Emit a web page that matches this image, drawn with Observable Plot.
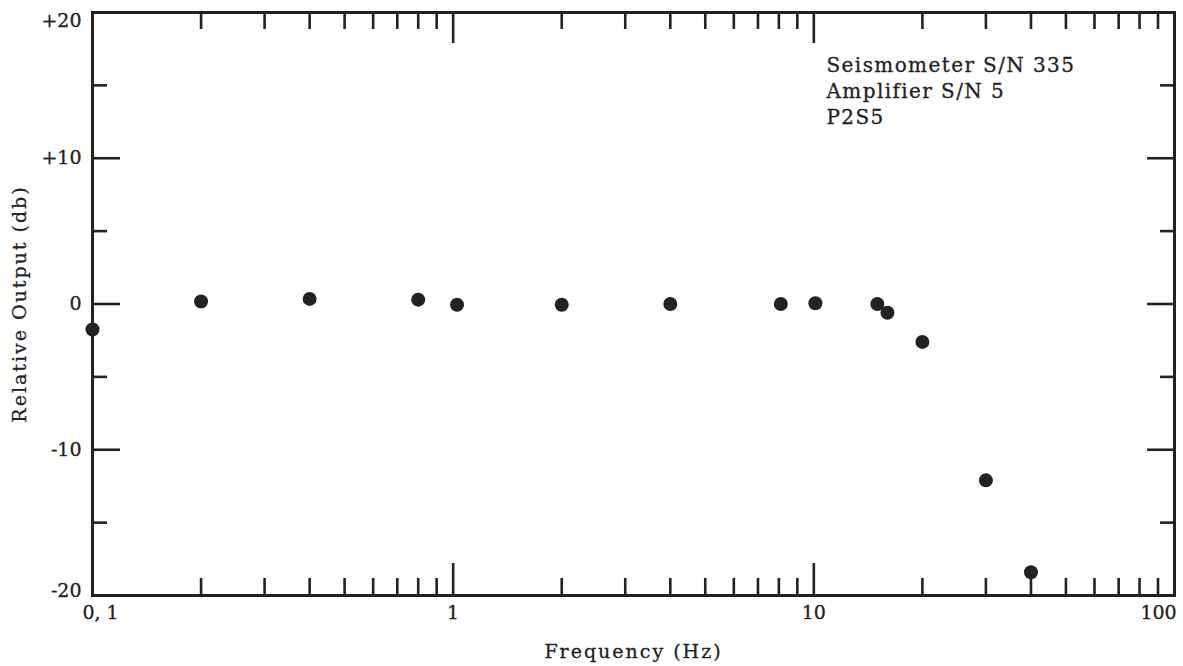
<!DOCTYPE html>
<html><head><meta charset="utf-8">
<script src="https://cdn.jsdelivr.net/npm/d3@7"></script>
<script src="https://cdn.jsdelivr.net/npm/@observablehq/plot@0.6"></script>
<style>
body{margin:0;background:#fff}
g[aria-label="x-axis label"] text, g[aria-label="y-axis label"] text {letter-spacing: 2px}
g[aria-label="text"] text {letter-spacing: 1.4px}
svg text {stroke: #222; stroke-width: 0.3px}
</style></head>
<body><div id="chart"></div>
<script>
const frequency = [0.1, 0.2, 0.4, 0.8, 1.025, 2, 4, 8.1, 10.1, 15, 16, 20, 30, 40];
const output = [-1.75, 0.17, 0.35, 0.3, -0.05, -0.05, 0, 0, 0.05, 0, -0.6, -2.6, -12.1, -18.4];
const xTickValues = [0.1, 1, 10, 100];
const xTickLabels = ["0, 1", "1", "10", "100"];
const xMajorInner = [1, 10];
const xMinorTicks = [0.2,0.3,0.4,0.5,0.6,0.7,0.8,0.9, 2,3,4,5,6,7,8,9, 20,30,40,50,60,70,80,90];
const yTickValues = [-20, -10, 0, 10, 20];
const yTickLabels = ["-20", "-10", "0", "+10", "+20"];
const yMajorInner = [-10, 0, 10];
const yMinorTicks = [-15, -5, 5, 15];
const notes = ["Seismometer S/N 335", "Amplifier S/N 5", "P2S5"];

const data = frequency.map((f, i) => ({f, v: output[i]}));
const ink = "#222";
const font = "DejaVu Serif, serif";
const xFmt = d => xTickLabels[xTickValues.indexOf(d)];
const yFmt = d => yTickLabels[yTickValues.indexOf(d)];
const tickOpts = {tickFormat: () => "", label: null, strokeWidth: 2.6, stroke: ink};

const chart = Plot.plot({
  width: 1183, height: 666,
  marginLeft: 92, marginRight: 9, marginTop: 12, marginBottom: 71,
  style: {fontFamily: font, color: ink, background: "#fff"},
  x: {type: "log", domain: [0.1, 100]},
  y: {domain: [-20, 20]},
  marks: [
    // inward ticks bottom
    Plot.axisX({anchor: "bottom", ticks: xMinorTicks, tickSize: 17, dy: -17, ...tickOpts}),
    Plot.axisX({anchor: "bottom", ticks: xMajorInner, tickSize: 32, dy: -32, ...tickOpts}),
    // inward ticks top
    Plot.axisX({anchor: "top", ticks: xMinorTicks, tickSize: 16, dy: 16, ...tickOpts}),
    Plot.axisX({anchor: "top", ticks: xMajorInner, tickSize: 30, dy: 30, ...tickOpts}),
    // inward ticks left/right
    Plot.axisY({anchor: "left", ticks: yMajorInner, tickSize: 28, dx: 28, ...tickOpts}),
    Plot.axisY({anchor: "left", ticks: yMinorTicks, tickSize: 15, dx: 15, ...tickOpts}),
    Plot.axisY({anchor: "right", ticks: yMajorInner, tickSize: 28, dx: -28, ...tickOpts}),
    Plot.axisY({anchor: "right", ticks: yMinorTicks, tickSize: 15, dx: -15, ...tickOpts}),
    // x tick labels
    Plot.axisX({anchor: "bottom", ticks: [0.1], tickSize: 0, tickPadding: 10, dx: 8,
      tickFormat: xFmt, fontSize: 19, fill: ink, label: null}),
    Plot.axisX({anchor: "bottom", ticks: [1, 10], tickSize: 0, tickPadding: 10,
      tickFormat: xFmt, fontSize: 19, fill: ink, label: null}),
    Plot.axisX({anchor: "bottom", ticks: [100], tickSize: 0, tickPadding: 10, dx: -16,
      tickFormat: xFmt, fontSize: 19, fill: ink,
      label: "Frequency (Hz)", labelAnchor: "center", labelArrow: "none", labelOffset: 62}),
    // y tick labels
    Plot.axisY({anchor: "left", ticks: [-10, 0, 10], tickSize: 0, tickPadding: 11,
      tickFormat: yFmt, fontSize: 19, fill: ink,
      label: "Relative Output (db)", labelAnchor: "center", labelArrow: "none", labelOffset: 80}),
    Plot.axisY({anchor: "left", ticks: [20], tickSize: 0, tickPadding: 11, dy: 8,
      tickFormat: yFmt, fontSize: 19, fill: ink, label: null}),
    Plot.axisY({anchor: "left", ticks: [-20], tickSize: 0, tickPadding: 11, dy: -5,
      tickFormat: yFmt, fontSize: 19, fill: ink, label: null}),
    Plot.frame({stroke: ink, strokeWidth: 3}),
    Plot.dot(data, {x: "f", y: "v", r: 7, fill: ink, stroke: "none"}),
    Plot.text([notes.join("\n")], {frameAnchor: "top-left", dx: 734, dy: 41, textAnchor: "start", lineAnchor: "top", fontSize: 20, lineHeight: 1.3, fill: ink})
  ]
});
document.getElementById("chart").appendChild(chart);
</script>
</body></html>
